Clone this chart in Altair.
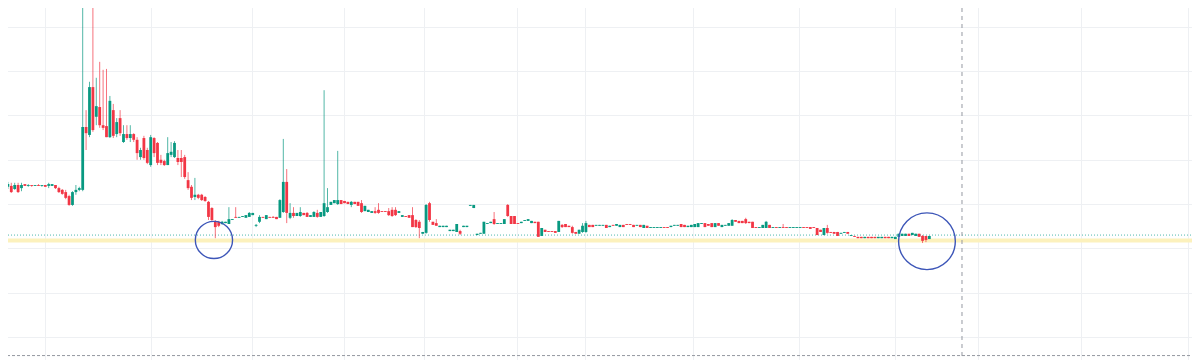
import altair as alt
import pandas as pd

# ---- candle data (price units; grid every 10) ----
opens = [
    43.2, 43.4, 43.9, 44.1, 43.4, 44.3, 43.6, 44.5, 44.1, 44.3,
    44.1, 44.3, 44.1, 44.3, 44.1, 44.1, 44.3, 43.6, 43.2, 42.7,
    41.8, 39.8, 42.7, 43.2, 43.2, 57.4, 55.6, 66.4, 59.7, 61.9,
    57.8, 57.6, 55.1, 61.2, 55.8, 59.4, 54.0, 55.8, 54.9, 55.8,
    54.5, 50.6, 54.9, 52.2, 48.8, 54.9, 53.8, 50.0, 49.7, 48.8,
    51.1, 50.6, 50.4, 50.4, 50.6, 45.4, 43.9, 41.6, 42.1, 42.1,
    41.6, 40.5, 39.1, 36.0, 36.0, 35.5, 35.7, 35.5, 36.4, 37.1,
    36.9, 37.1, 36.9, 37.1, 37.5, 35.1, 36.0, 37.1, 36.6, 37.1,
    37.1, 37.1, 36.9, 38.2, 45.0, 36.9, 38.0, 37.3, 37.3, 38.0,
    38.0, 37.1, 37.1, 38.0, 37.1, 37.3, 38.2, 39.8, 40.2, 40.0,
    40.9, 40.7, 40.5, 39.8, 40.5, 40.5, 40.2, 38.4, 38.2, 38.0,
    38.4, 38.7, 38.4, 38.4, 38.4, 38.7, 38.7, 38.0, 37.1, 37.3,
    37.5, 37.5, 36.4, 36.0, 33.3, 33.5, 40.2, 36.0, 35.7, 34.8,
    34.8, 34.8, 33.9, 33.9, 33.7, 33.9, 34.8, 34.8, 39.6, 39.1,
    33.0, 33.3, 33.3, 35.5, 35.7, 36.6, 35.5, 35.5, 35.5, 39.8,
    37.3, 37.3, 35.7, 35.7, 36.2, 36.2, 35.7, 36.0, 36.0, 32.8,
    34.2, 33.9, 33.9, 33.9, 33.7, 35.3, 35.5, 35.1, 34.8, 33.7,
    33.3, 33.7, 33.7, 35.3, 35.3, 35.1, 35.1, 35.1, 35.3, 34.8,
    35.3, 35.1, 34.8, 35.3, 35.5, 35.5, 35.3, 35.1, 35.3, 34.6,
    35.1, 34.6, 34.6, 34.6, 34.6, 34.8, 34.8, 34.8, 35.1, 35.1,
    35.5, 35.3, 34.8, 34.8, 34.8, 34.8, 35.5, 35.7, 35.5, 35.7,
    34.8, 35.7, 34.8, 35.1, 35.1, 35.1, 36.4, 36.2, 36.2, 36.6,
    36.0, 36.0, 34.8, 34.6, 34.6, 34.6, 35.3, 34.6, 34.8, 34.6,
    34.8, 34.8, 34.6, 34.6, 34.6, 34.6, 34.8, 34.8, 34.8, 34.8,
    34.6, 34.2, 33.0, 34.6, 33.7, 33.7, 33.7, 33.3, 33.5, 33.7,
    32.8, 32.8, 32.6, 32.6, 32.3, 32.6, 32.6, 32.6, 32.3, 32.3,
    32.6, 32.6, 32.3, 32.1, 32.6, 32.8, 32.8, 33.3, 33.0, 32.8,
    33.3, 32.8, 32.8, 32.1,
]
highs = [
    44.8, 44.3, 45.0, 44.8, 44.8, 44.8, 44.8, 44.5, 44.5, 44.3,
    44.3, 44.5, 44.3, 44.3, 44.8, 44.5, 44.3, 43.9, 43.4, 43.2,
    42.1, 42.9, 44.3, 43.9, 95.1, 61.2, 67.6, 95.1, 68.5, 72.1,
    70.3, 70.5, 64.4, 62.6, 59.4, 61.2, 57.8, 57.8, 57.8, 56.0,
    55.1, 52.7, 55.4, 52.7, 55.6, 55.1, 54.0, 51.1, 50.0, 55.1,
    54.0, 54.2, 52.2, 52.2, 51.1, 47.2, 44.3, 45.9, 42.3, 42.3,
    41.8, 40.7, 39.3, 36.4, 36.2, 36.2, 36.0, 39.3, 36.6, 39.3,
    37.1, 37.3, 37.5, 38.2, 38.0, 35.5, 37.5, 37.1, 37.5, 37.1,
    37.3, 37.1, 41.1, 54.7, 47.9, 40.2, 39.3, 38.0, 39.3, 38.0,
    38.2, 37.5, 38.4, 38.7, 38.2, 65.7, 43.6, 40.5, 40.9, 52.0,
    40.9, 40.7, 40.5, 40.7, 40.5, 40.5, 40.9, 39.6, 38.7, 38.4,
    39.3, 40.2, 38.4, 38.4, 39.1, 39.3, 39.3, 38.4, 37.5, 37.3,
    37.5, 39.3, 36.6, 36.4, 33.7, 40.0, 40.5, 36.0, 36.6, 35.1,
    35.1, 35.1, 34.2, 34.2, 35.5, 34.2, 35.1, 35.1, 39.8, 39.8,
    33.3, 33.5, 36.0, 35.7, 36.0, 38.2, 35.7, 35.7, 36.6, 40.0,
    37.3, 37.3, 35.7, 36.0, 36.4, 36.6, 36.2, 36.0, 36.0, 34.6,
    34.2, 33.9, 33.9, 33.9, 36.2, 35.5, 35.5, 35.1, 35.1, 33.7,
    34.2, 35.7, 36.2, 35.3, 35.3, 35.3, 35.3, 35.3, 35.3, 35.1,
    35.3, 35.5, 35.3, 35.3, 35.5, 35.5, 35.3, 35.3, 35.3, 35.3,
    35.1, 34.8, 34.8, 34.8, 34.8, 34.8, 34.8, 35.1, 35.3, 35.3,
    35.5, 35.3, 35.1, 35.3, 35.5, 35.7, 35.7, 35.7, 35.5, 35.7,
    35.7, 35.7, 35.3, 35.3, 35.7, 36.6, 36.4, 36.2, 36.2, 36.9,
    36.0, 36.0, 34.8, 34.8, 35.3, 36.2, 35.3, 34.8, 34.8, 34.8,
    35.5, 34.8, 34.8, 34.8, 34.8, 34.8, 34.8, 34.8, 34.8, 34.8,
    34.6, 34.2, 34.6, 35.3, 33.7, 33.7, 33.7, 33.5, 33.7, 33.7,
    33.0, 32.8, 32.6, 32.6, 32.6, 32.6, 32.6, 32.6, 32.6, 32.6,
    32.6, 32.6, 32.6, 32.6, 33.3, 33.3, 33.3, 33.3, 33.5, 33.3,
    33.3, 33.0, 32.8, 32.8,
]
lows = [
    42.1, 43.2, 43.4, 42.5, 43.2, 42.5, 42.9, 44.1, 43.9, 43.9,
    44.1, 44.1, 43.9, 43.9, 43.6, 44.1, 43.4, 42.5, 42.1, 41.1,
    39.6, 39.6, 42.1, 42.9, 42.9, 52.2, 55.1, 56.3, 57.8, 57.2,
    56.7, 55.1, 54.9, 54.9, 55.1, 55.4, 53.8, 54.5, 54.0, 54.0,
    50.0, 50.0, 50.0, 49.0, 48.4, 50.6, 48.8, 48.8, 48.6, 48.8,
    50.6, 50.4, 48.8, 46.1, 45.7, 43.2, 40.9, 40.9, 41.1, 40.7,
    40.5, 36.4, 36.0, 32.3, 34.8, 35.3, 35.7, 35.5, 36.4, 36.9,
    36.9, 37.1, 36.9, 37.1, 37.5, 34.8, 35.7, 36.9, 36.6, 36.9,
    36.9, 36.6, 36.9, 38.0, 35.7, 36.6, 36.9, 37.3, 37.1, 37.5,
    37.1, 37.1, 37.1, 36.9, 37.1, 37.1, 38.0, 39.8, 40.2, 39.8,
    40.0, 40.2, 40.0, 39.3, 40.0, 39.6, 38.0, 38.4, 38.2, 38.0,
    37.8, 37.8, 38.2, 38.2, 37.3, 37.1, 37.3, 38.0, 37.1, 37.1,
    36.9, 34.8, 34.6, 32.3, 33.3, 33.3, 36.0, 35.3, 35.1, 34.8,
    34.8, 34.8, 33.9, 33.9, 33.7, 33.0, 34.8, 34.8, 39.6, 39.1,
    33.0, 33.3, 33.3, 35.5, 35.7, 35.3, 35.5, 35.5, 35.5, 37.1,
    35.5, 35.5, 35.5, 35.7, 36.2, 36.2, 35.7, 35.7, 32.6, 32.8,
    33.7, 33.7, 33.7, 33.5, 33.7, 34.6, 34.8, 34.8, 33.3, 33.3,
    33.3, 33.5, 33.5, 34.8, 34.8, 35.1, 35.1, 35.1, 34.6, 34.8,
    35.1, 35.1, 34.8, 34.8, 35.3, 35.3, 34.8, 35.1, 34.8, 34.6,
    34.6, 34.6, 34.6, 34.6, 34.6, 34.6, 34.6, 34.8, 35.1, 35.1,
    34.8, 34.8, 34.8, 34.8, 34.8, 34.8, 35.5, 34.8, 35.1, 34.8,
    34.8, 35.1, 34.8, 35.1, 35.1, 35.1, 36.0, 35.7, 35.7, 35.5,
    35.7, 34.6, 34.6, 34.6, 34.6, 34.6, 34.6, 34.6, 34.6, 34.6,
    34.6, 34.6, 34.6, 34.6, 34.6, 34.6, 34.6, 34.6, 34.4, 34.6,
    33.0, 33.7, 33.0, 33.3, 33.5, 33.3, 32.8, 33.3, 33.5, 33.3,
    32.8, 32.6, 32.3, 32.3, 32.3, 32.3, 32.3, 32.3, 32.3, 32.3,
    32.3, 32.3, 32.3, 32.1, 32.6, 32.8, 32.8, 32.8, 33.0, 32.8,
    32.6, 31.2, 31.4, 32.1,
]
closes = [
    44.3, 44.1, 44.5, 42.7, 44.3, 42.7, 44.3, 44.1, 44.3, 44.1,
    44.3, 44.1, 44.3, 43.9, 44.5, 44.5, 43.6, 42.7, 42.3, 41.4,
    39.8, 42.7, 43.2, 43.6, 57.4, 56.0, 66.4, 56.7, 62.1, 57.8,
    57.2, 55.1, 63.3, 55.4, 58.5, 56.0, 55.8, 54.9, 55.8, 54.5,
    51.5, 52.2, 50.4, 49.3, 55.1, 51.5, 49.3, 49.3, 48.8, 51.5,
    51.8, 53.8, 49.5, 49.5, 46.1, 43.6, 41.4, 42.1, 41.4, 40.9,
    40.7, 37.1, 36.4, 34.8, 35.1, 36.0, 36.0, 36.6, 36.6, 36.9,
    37.1, 37.3, 37.5, 38.0, 38.0, 35.3, 37.1, 36.9, 37.5, 36.9,
    36.9, 36.6, 40.9, 45.0, 38.0, 38.0, 37.3, 38.0, 38.2, 37.5,
    37.1, 37.5, 38.2, 37.1, 38.2, 40.2, 39.3, 40.5, 40.9, 40.9,
    40.0, 40.2, 40.0, 40.5, 40.0, 39.6, 38.2, 39.6, 38.7, 38.4,
    38.0, 38.0, 38.2, 38.2, 37.5, 37.3, 37.5, 38.4, 37.5, 37.1,
    36.9, 34.8, 34.8, 34.6, 33.7, 39.8, 36.4, 35.3, 35.1, 35.1,
    35.1, 35.1, 34.2, 34.2, 35.5, 33.3, 35.1, 35.1, 39.8, 39.8,
    33.3, 33.5, 36.0, 35.7, 36.0, 35.5, 35.7, 35.7, 36.6, 37.3,
    35.5, 35.5, 35.5, 36.0, 36.4, 36.6, 36.2, 35.7, 32.6, 34.6,
    33.7, 33.7, 33.7, 33.5, 36.2, 34.8, 34.8, 34.8, 33.5, 33.3,
    34.2, 35.1, 35.7, 34.8, 34.8, 35.3, 35.3, 35.3, 34.6, 35.1,
    35.1, 35.5, 35.3, 34.8, 35.3, 35.3, 34.8, 35.3, 34.8, 35.3,
    34.6, 34.8, 34.8, 34.8, 34.8, 34.6, 34.6, 35.1, 35.3, 35.3,
    34.8, 34.8, 35.1, 35.3, 35.5, 35.7, 35.7, 34.8, 35.1, 34.8,
    35.7, 35.1, 35.3, 35.3, 35.7, 36.4, 36.0, 35.7, 35.7, 35.7,
    35.7, 34.6, 34.6, 34.8, 35.3, 36.0, 34.6, 34.8, 34.6, 34.8,
    34.6, 34.6, 34.8, 34.8, 34.8, 34.8, 34.6, 34.6, 34.4, 34.6,
    33.0, 33.7, 34.6, 33.5, 33.5, 33.3, 32.8, 33.5, 33.7, 33.3,
    33.0, 32.6, 32.3, 32.3, 32.6, 32.3, 32.3, 32.3, 32.6, 32.6,
    32.3, 32.3, 32.6, 32.6, 33.3, 33.3, 33.3, 32.8, 33.5, 33.3,
    32.6, 31.7, 31.9, 32.8,
]

# grid / reference levels
x_grid = [12.9, 44.1, 73.8, 100.9, 124.4, 151.7, 171.7, 203.5, 234.7, 262.9, 287.3, 317.6, 349.1]
y_grid = [10, 20, 30, 40, 50, 60, 70, 80]
last_price_level = [33.0]
support_level = [31.8]
now_marker = [282.6]
floor_level = [5.8]
circle_small = {"t": [62.6], "p": [31.9]}
circle_big = {"t": [272.3], "p": [31.6]}

X_DOMAIN = [-0.32, 352.6]
Y_DOMAIN = [4.8, 86.06]

n = len(opens)
df = pd.DataFrame({"t": list(range(n)), "open": opens, "high": highs, "low": lows, "close": closes})
df["dir"] = ["up" if c >= o else "down" for o, c in zip(opens, closes)]

xs = alt.Scale(domain=X_DOMAIN, nice=False, zero=False)
ys = alt.Scale(domain=Y_DOMAIN, nice=False, zero=False)
grid_color = "#eef0f3"

xaxis = alt.Axis(values=x_grid, grid=True, gridColor=grid_color, labels=False, ticks=False,
                 domain=False, title=None)
yaxis = alt.Axis(values=y_grid, grid=True, gridColor=grid_color, labels=False, ticks=False,
                 domain=False, title=None)

color = alt.Color("dir:N", scale=alt.Scale(domain=["up", "down"], range=["#089981", "#f23645"]),
                  legend=None)

grid_layer = alt.Chart(pd.DataFrame({"t": [0.0], "p": [40.0]})).mark_point(opacity=0).encode(
    x=alt.X("t:Q", scale=xs, axis=xaxis), y=alt.Y("p:Q", scale=ys, axis=yaxis))

band = alt.Chart(pd.DataFrame({"p": support_level})).mark_rule(
    color="#fcf1bd", strokeWidth=4).encode(y=alt.Y("p:Q", scale=ys))
price_line = alt.Chart(pd.DataFrame({"p": last_price_level})).mark_rule(
    color="#26a69a", strokeWidth=1, strokeDash=[1, 2], opacity=0.8).encode(y=alt.Y("p:Q", scale=ys))

base = alt.Chart(df).encode(x=alt.X("t:Q", scale=xs))
wicks = base.mark_rule(strokeWidth=1, opacity=0.7, clip=True).encode(
    y=alt.Y("low:Q", scale=ys), y2="high:Q", color=color)
bodies = base.mark_rule(strokeWidth=2.8, clip=True).encode(
    y=alt.Y("open:Q", scale=ys), y2="close:Q", color=color)

vline = alt.Chart(pd.DataFrame({"t": now_marker})).mark_rule(
    color="#9598a1", strokeWidth=1, strokeDash=[4, 4]).encode(x=alt.X("t:Q", scale=xs))
floor = alt.Chart(pd.DataFrame({"p": floor_level})).mark_rule(
    color="#9598a1", strokeWidth=1, strokeDash=[3, 2]).encode(y=alt.Y("p:Q", scale=ys))

c1 = alt.Chart(pd.DataFrame(circle_small)).mark_point(
    shape="circle", filled=False, size=1385, strokeWidth=1.4, color="#3d56b8", opacity=1).encode(
    x=alt.X("t:Q", scale=xs), y=alt.Y("p:Q", scale=ys))
c2 = alt.Chart(pd.DataFrame(circle_big)).mark_point(
    shape="circle", filled=False, size=3217, strokeWidth=1.4, color="#3d56b8", opacity=1).encode(
    x=alt.X("t:Q", scale=xs), y=alt.Y("p:Q", scale=ys))

chart = alt.layer(grid_layer, band, price_line, wicks, bodies, vline, floor, c1, c2).properties(
    width=1200, height=360,
    padding={"left": -8, "top": -8, "right": -8, "bottom": 0},
    autosize=alt.AutoSizeParams(type="none"),
    background="white",
).configure_view(stroke=None)

chart.save("out.html", embed_options={"renderer": "svg", "actions": False})
